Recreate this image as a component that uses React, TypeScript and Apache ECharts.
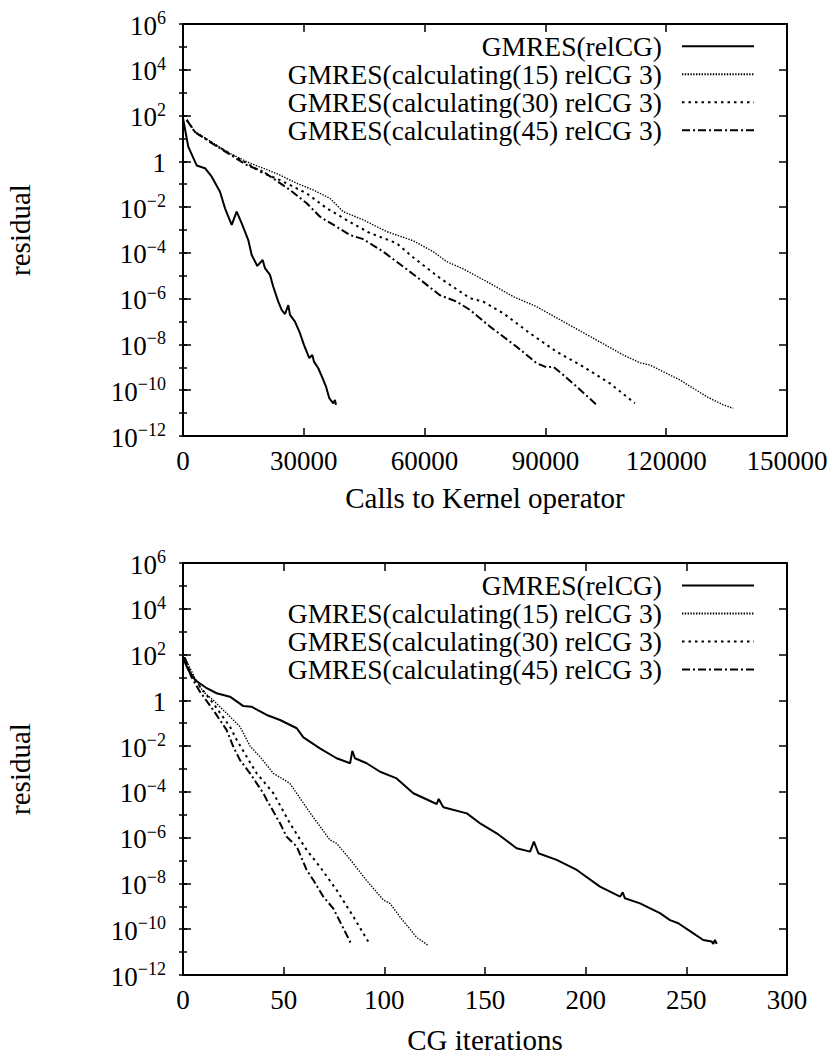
import React, { useEffect, useRef } from "react";
import * as echarts from "echarts";

// ---------- labels ----------
const NAMES = [
  "GMRES(relCG)",
  "GMRES(calculating(15) relCG 3)",
  "GMRES(calculating(30) relCG 3)",
  "GMRES(calculating(45) relCG 3)",
];
const TOP_X_TITLE = "Calls to Kernel operator";
const BOTTOM_X_TITLE = "CG iterations";
const Y_TITLE = "residual";

// ---------- top panel: calls to Kernel operator (x) vs log10(residual) ----------
const kRelCG_x = [0, 1300, 3400, 5460, 7130, 9190, 10430, 12090, 13330, 14580, 16210, 17060, 18450, 19790, 20360, 21600, 22420, 23660, 24510, 25330, 26150, 26570, 27810, 29050, 30040, 31360, 32110, 32530, 33600, 34690, 35510, 36330, 37320, 37740, 37990];
const kRelCG_log = [1.88, 0.64, -0.18, -0.3, -0.67, -1.33, -2.05, -2.78, -2.2, -2.71, -3.44, -4.09, -4.57, -4.31, -4.67, -4.96, -5.48, -6.13, -6.49, -6.67, -6.28, -6.71, -7.0, -7.51, -8.02, -8.6, -8.46, -8.75, -9.04, -9.48, -9.84, -10.35, -10.57, -10.43, -10.64];

const kC15_x = [920, 2980, 7520, 11670, 15820, 19940, 24090, 28230, 32360, 36500, 39800, 44770, 50580, 57180, 62150, 65480, 69600, 76230, 82010, 87820, 94430, 102720, 109330, 113470, 115960, 123410, 130040, 134160, 136640];
const kC15_log = [1.81, 1.3, 0.79, 0.35, -0.02, -0.3, -0.6, -0.96, -1.25, -1.62, -2.2, -2.56, -3.07, -3.47, -3.95, -4.38, -4.7, -5.33, -5.91, -6.35, -7.0, -7.81, -8.46, -8.8, -8.9, -9.55, -10.28, -10.64, -10.79];

const kC30_x = [920, 2980, 7520, 11670, 15820, 19120, 24090, 30720, 35680, 41470, 46000, 53060, 57180, 63810, 71260, 74570, 79530, 86160, 92790, 99390, 106020, 112230];
const kC30_log = [1.81, 1.28, 0.77, 0.33, -0.08, -0.45, -0.82, -1.4, -2.05, -2.65, -3.1, -3.58, -4.2, -5.1, -5.98, -6.13, -6.64, -7.51, -8.32, -8.97, -9.7, -10.57];

const kC45_x = [920, 2980, 7520, 11670, 15820, 19940, 26570, 30720, 34020, 38160, 41470, 44770, 49740, 57180, 63810, 67960, 71260, 76230, 82860, 87820, 90310, 91950, 94430, 97760, 102720];
const kC45_log = [1.81, 1.27, 0.75, 0.3, -0.16, -0.45, -1.25, -1.83, -2.42, -2.86, -3.22, -3.4, -3.95, -4.93, -5.85, -6.13, -6.49, -7.22, -8.1, -8.82, -9.0, -8.97, -9.33, -9.84, -10.64];

// ---------- bottom panel: CG iterations (x) vs log10(residual) ----------
const cRelCG_x = [0, 2.6, 6, 11.8, 16.7, 23.3, 30, 34, 41.6, 48.2, 56.5, 59.8, 68, 76.3, 83, 84.1, 85.4, 91.2, 97.9, 106.1, 114.4, 126, 127, 129.3, 141, 148, 155.8, 165.7, 172.4, 174.3, 176.5, 185.6, 195.6, 207.1, 217.1, 218.4, 219.5, 227, 236.9, 241.9, 246, 253.5, 258.4, 262.6, 263.4, 264.2, 265.1];
const cRelCG_log = [1.85, 1.33, 0.89, 0.53, 0.31, 0.16, -0.25, -0.28, -0.64, -0.86, -1.22, -1.62, -2.1, -2.53, -2.75, -2.21, -2.53, -2.75, -3.12, -3.41, -4.06, -4.53, -4.31, -4.67, -4.94, -5.4, -5.81, -6.46, -6.61, -6.17, -6.68, -6.97, -7.41, -8.14, -8.58, -8.39, -8.65, -8.87, -9.3, -9.6, -9.74, -10.18, -10.47, -10.54, -10.64, -10.47, -10.64];

const cC15_x = [0, 1, 6, 10, 15, 21.7, 28.3, 33.3, 38.2, 44.9, 53, 63, 73, 76.3, 83, 91, 99.5, 102.8, 109, 116, 121.5];
const cC15_log = [1.85, 1.84, 0.96, 0.38, 0.01, -0.57, -1.15, -2.0, -2.46, -3.19, -3.62, -4.9, -6.1, -6.25, -6.95, -7.85, -8.72, -8.87, -9.6, -10.35, -10.69];

const cC30_x = [0, 1, 4, 8.4, 15, 23.3, 26.7, 31.6, 36.6, 44.9, 53.1, 61.4, 68, 76.3, 84.6, 92];
const cC30_log = [1.85, 1.84, 1.15, 0.6, -0.13, -1.15, -1.73, -2.46, -3.19, -4.06, -5.37, -6.54, -7.27, -8.29, -9.45, -10.54];

const cC45_x = [0, 1, 4, 8.4, 15, 21.7, 25, 28.3, 33.3, 39.9, 41.6, 48.2, 51.5, 56.5, 61.4, 64.7, 69.7, 74.7, 79.6, 83.8];
const cC45_log = [1.85, 1.84, 1.05, 0.38, -0.42, -1.3, -2.03, -2.61, -3.19, -4.06, -4.35, -5.37, -5.96, -6.39, -7.41, -7.85, -8.58, -9.1, -9.95, -10.69];

// ---------- axis settings ----------
const TOP_X_MAX = 150000;
const TOP_X_STEP = 30000;
const BOTTOM_X_MAX = 300;
const BOTTOM_X_STEP = 50;
const Y_MIN = 1e-12;
const Y_MAX = 1e6;

const FONT = "Liberation Serif";

const pts = (xs: number[], logs: number[]) => xs.map((x, i) => [x, Math.pow(10, logs[i])]);

const STYLES = [
  { width: 2, type: "solid" as any },
  { width: 1.4, type: [1.4, 1.4] as any },
  { width: 2, type: [2.5, 4] as any },
  { width: 2, type: [8, 3, 2, 3] as any },
];

function yLabel(v: number) {
  const e = Math.round(Math.log10(v));
  if (e === 0) return "{b|1}";
  const s = e < 0 ? "\u2212" + -e : String(e);
  return "{b|10}{s|" + s + "}";
}

export default function App() {
  const ref = useRef<HTMLDivElement>(null);
  useEffect(() => {
    if (!ref.current) return;
    const chart = echarts.init(ref.current, undefined, { renderer: "svg" });

    const lineW = { color: "#000", width: 2 };
    const tickStyle = { color: "#000", width: 1.5 };
    const grids = [
      { left: 183, top: 24, width: 604, height: 412, outerBoundsMode: "none", containLabel: false },
      { left: 183, top: 563, width: 604, height: 412, outerBoundsMode: "none", containLabel: false },
    ];

    const xAxes: any[] = [];
    const yAxes: any[] = [];
    [0, 1].forEach((g) => {
      const max = g === 0 ? TOP_X_MAX : BOTTOM_X_MAX;
      const step = g === 0 ? TOP_X_STEP : BOTTOM_X_STEP;
      const common = {
        type: "value",
        gridIndex: g,
        min: 0,
        max,
        interval: step,
        axisLine: { show: true, onZero: false, lineStyle: lineW },
        axisTick: { show: true, inside: true, length: 8, lineStyle: tickStyle },
        splitLine: { show: false },
      };
      xAxes.push({
        ...common,
        position: "bottom",
        name: g === 0 ? TOP_X_TITLE : BOTTOM_X_TITLE,
        nameLocation: "middle",
        nameGap: g === 0 ? 47 : 50,
        nameTextStyle: { fontFamily: FONT, fontSize: 29, color: "#000" },
        axisLabel: {
          show: true,
          margin: 11,
          fontFamily: FONT,
          fontSize: 27,
          color: "#000",
          hideOverlap: false,
          formatter: (v: number) => String(v),
        },
      });
      xAxes.push({ ...common, position: "top", axisLabel: { show: false } });

      const ycommon = {
        type: "log",
        logBase: 10,
        gridIndex: g,
        min: Y_MIN,
        max: Y_MAX,
        splitLine: { show: false },
      };
      const major = {
        ...ycommon,
        interval: 2,
        axisLine: { show: true, onZero: false, lineStyle: lineW },
        axisTick: { show: true, inside: true, length: 8, lineStyle: tickStyle },
      };
      const minor = {
        ...ycommon,
        interval: 1,
        axisLine: { show: false },
        axisTick: { show: true, inside: true, length: 4, lineStyle: tickStyle },
        axisLabel: { show: false },
      };
      // main left axis with labels (index g*4)
      yAxes.push({
        ...major,
        position: "left",
        name: Y_TITLE,
        nameLocation: "middle",
        nameRotate: 90,
        nameGap: 149,
        nameTextStyle: { fontFamily: FONT, fontSize: 29, color: "#000" },
        axisLabel: {
          show: true,
          margin: 17,
          fontFamily: FONT,
          formatter: yLabel,
          rich: {
            b: { fontFamily: FONT, fontSize: 27, color: "#000", lineHeight: 30, verticalAlign: "bottom" },
            s: { fontFamily: FONT, fontSize: 18, color: "#000", lineHeight: 30, verticalAlign: "top" },
          },
        },
      });
      yAxes.push({ ...minor, position: "left" });
      yAxes.push({ ...major, position: "right", axisLabel: { show: false } });
      yAxes.push({ ...minor, position: "right" });
    });

    const panels = [
      [pts(kRelCG_x, kRelCG_log), pts(kC15_x, kC15_log), pts(kC30_x, kC30_log), pts(kC45_x, kC45_log)],
      [pts(cRelCG_x, cRelCG_log), pts(cC15_x, cC15_log), pts(cC30_x, cC30_log), pts(cC45_x, cC45_log)],
    ];
    const series: any[] = [];
    panels.forEach((data, g) => {
      data.forEach((d, i) => {
        series.push({
          type: "line",
          name: NAMES[i],
          xAxisIndex: g * 2,
          yAxisIndex: g * 4,
          data: d,
          symbol: "none",
          showSymbol: false,
          clip: true,
          lineStyle: { color: "#000", width: STYLES[i].width, type: STYLES[i].type },
          itemStyle: { color: "#000" },
          z: 3,
        });
      });
    });

    const legendCommon = {
      data: NAMES,
      orient: "vertical",
      align: "right",
      right: 81,
      padding: 0,
      itemWidth: 72,
      itemHeight: 14,
      itemGap: 0,
      selectedMode: false,
      itemStyle: { opacity: 0 },
      textStyle: { fontFamily: FONT, fontSize: 27.5, color: "#000", lineHeight: 26, padding: [0, 15, 0, 0] },
    };

    chart.setOption({
      animation: false,
      backgroundColor: "#fff",
      textStyle: { fontFamily: FONT },
      grid: grids,
      xAxis: xAxes,
      yAxis: yAxes,
      legend: [
        { ...legendCommon, top: 32.2 },
        { ...legendCommon, top: 571.5 },
      ],
      series,
    });
    return () => chart.dispose();
  }, []);

  return (
    <div
      ref={ref}
      style={{ position: "absolute", left: 0, top: 0, width: 836, height: 1055, background: "#fff" }}
    />
  );
}
